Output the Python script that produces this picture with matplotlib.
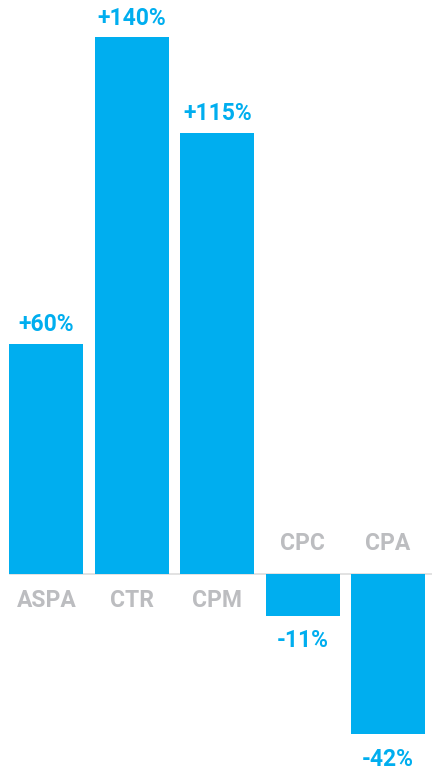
import numpy as np
import matplotlib.pyplot as plt

categories = ["ASPA", "CTR", "CPM", "CPC", "CPA"]
values = [60, 140, 115, -11, -42]
value_labels = ["+60%", "+140%", "+115%", "-11%", "-42%"]

blue = "#00aeef"
grey = "#bcbdc0"

fig = plt.figure(figsize=(4.32, 7.72), dpi=100)
ax = fig.add_axes([0, 0, 1, 1])
ax.set_xlim(-0.544, 4.514)
ax.set_ylim(-51.8, 149.7)
ax.axis("off")

x = np.arange(len(categories))
ax.bar(x, values, width=0.866, color=blue, zorder=2)
ax.axhline(0, xmin=10 / 432, xmax=1, color="#dddddd", linewidth=1.2, zorder=1)

font = dict(family=["Roboto", "DejaVu Sans"], fontweight="bold", fontsize=16.5)
for xi, v, cat, lab in zip(x, values, categories, value_labels):
    if v >= 0:
        ax.text(xi, v + 2.0, lab, color=blue, ha="center", va="bottom", **font)
        ax.annotate(cat, (xi, 0), xytext=(0, -11), textcoords="offset points",
                    ha="center", va="top", color=grey, **font)
    else:
        ax.annotate(cat, (xi, 0), xytext=(0, 13), textcoords="offset points",
                    ha="center", va="bottom", color=grey, **font)
        ax.text(xi, v - 3.5, lab, color=blue, ha="center", va="top", **font)

fig.savefig("out.png", dpi=100)
